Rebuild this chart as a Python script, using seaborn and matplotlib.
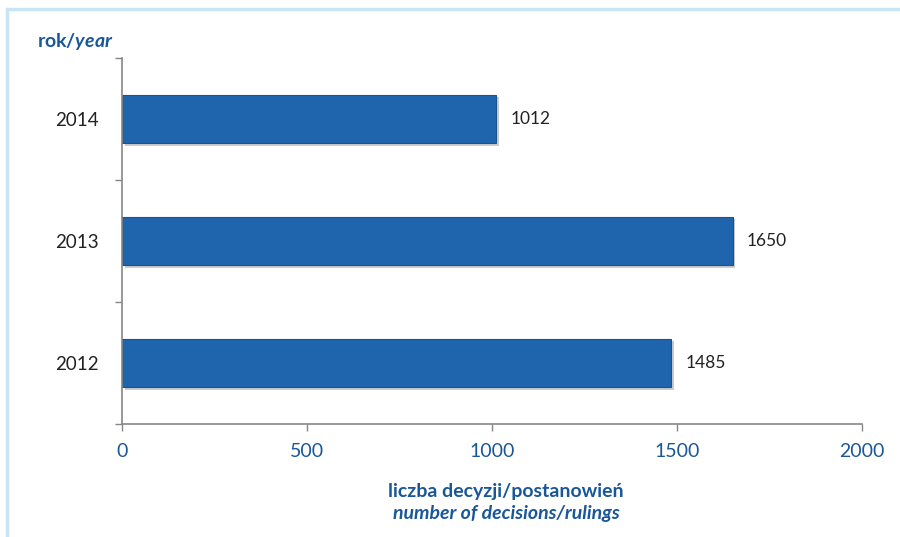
import matplotlib
matplotlib.use("Agg")
import matplotlib.pyplot as plt
import matplotlib.patheffects as pe
from matplotlib.lines import Line2D
import seaborn as sns
import pandas as pd

years = ["2014", "2013", "2012"]
counts = [1012, 1650, 1485]
x_ticks = [0, 500, 1000, 1500, 2000]

sns.set_theme(style="white")
plt.rcParams["font.family"] = ["Lato", "DejaVu Sans"]
plt.rcParams["mathtext.fontset"] = "custom"
plt.rcParams["mathtext.it"] = "Lato:italic:bold"
plt.rcParams["mathtext.rm"] = "Lato:bold"

df = pd.DataFrame({"year": years, "count": counts})

fig = plt.figure(figsize=(9, 5.37), dpi=100)
ax = fig.add_axes([122 / 900, 1 - 424 / 537, (862 - 122) / 900, (424 - 58) / 537])

sns.barplot(data=df, x="count", y="year", order=years, orient="h",
            color="#1f65ad", saturation=1, width=0.4, ax=ax,
            edgecolor="#175490", linewidth=0.8)

for p in ax.patches:
    p.set_path_effects([pe.SimplePatchShadow(offset=(2, -2), shadow_rgbFace="#9a9a9a", alpha=0.5),
                        pe.Normal()])

for v, yv in zip(counts, range(len(years))):
    ax.text(v + 38, yv, str(v), va="center", ha="left", fontsize=12.5, color="#222222")

ax.set_xlim(0, 2000)
ax.set_ylim(2.5, -0.5)
ax.set_xticks(x_ticks)
ax.set_xticklabels([str(t) for t in x_ticks], color="#1a5799", fontsize=14)
ax.tick_params(axis="x", length=5, width=1, color="#868686", direction="out", pad=9, bottom=True)
ax.tick_params(axis="y", which="major", length=0, pad=17, labelsize=13.5, labelcolor="#222222", left=True)
ax.set_yticks([-0.5, 0.5, 1.5, 2.5], minor=True)
ax.tick_params(axis="y", which="minor", length=5, width=1, color="#868686", direction="out", left=True)
ax.set_xlabel("")
ax.set_ylabel("")

for s in ["top", "right"]:
    ax.spines[s].set_visible(False)
for s in ["left", "bottom"]:
    ax.spines[s].set_color("#868686")
    ax.spines[s].set_linewidth(1.2)

# titles
fig.text(37 / 900, 1 - 42 / 537, r"rok/$\mathit{year}$", fontsize=14, fontweight="bold",
         color="#1a5799", va="center", ha="left")
fig.text(506 / 900, 1 - 492 / 537, "liczba decyzji/postanowień", fontsize=14, fontweight="bold",
         color="#1a5799", va="center", ha="center")
fig.text(506 / 900, 1 - 514 / 537, "number of decisions/rulings", fontsize=14, fontweight="bold",
         fontstyle="italic", color="#1a5799", va="center", ha="center")

# light blue frame (top and left)
fig.add_artist(Line2D([7 / 900, 1], [1 - 9 / 537, 1 - 9 / 537], transform=fig.transFigure,
                      color="#c5e6f2", linewidth=2.5))
fig.add_artist(Line2D([7 / 900, 7 / 900], [0, 1 - 9 / 537], transform=fig.transFigure,
                      color="#c5e6f2", linewidth=2.5))

fig.savefig("out.png", dpi=100)
